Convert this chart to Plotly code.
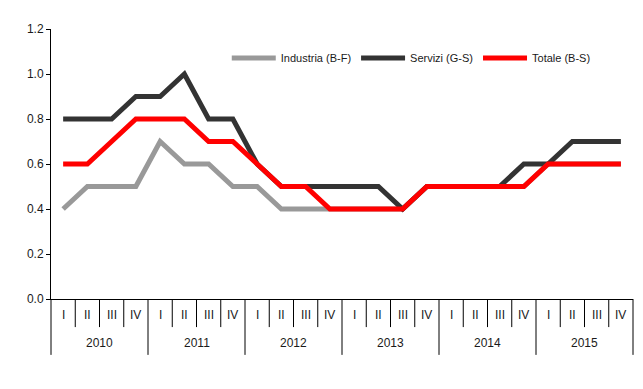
import plotly.graph_objects as go

years = ["2010", "2011", "2012", "2013", "2014", "2015"]
quarters = ["I", "II", "III", "IV"]

industria = [0.4, 0.5, 0.5, 0.5, 0.7, 0.6, 0.6, 0.5, 0.5, 0.4, 0.4, 0.4,
             0.4, 0.4, 0.4, 0.5, 0.5, 0.5, 0.5, 0.5, 0.6, 0.6, 0.6, 0.6]
servizi = [0.8, 0.8, 0.8, 0.9, 0.9, 1.0, 0.8, 0.8, 0.6, 0.5, 0.5, 0.5,
           0.5, 0.5, 0.4, 0.5, 0.5, 0.5, 0.5, 0.6, 0.6, 0.7, 0.7, 0.7]
totale = [0.6, 0.6, 0.7, 0.8, 0.8, 0.8, 0.7, 0.7, 0.6, 0.5, 0.5, 0.4,
          0.4, 0.4, 0.4, 0.5, 0.5, 0.5, 0.5, 0.5, 0.6, 0.6, 0.6, 0.6]

FONT = "Liberation Sans, Arial, sans-serif"
TXT = "#1a1a1a"
n = len(years) * len(quarters)
xs = list(range(n))

fig = go.Figure()
fig.add_trace(go.Scatter(x=xs, y=industria, mode="lines", name="Industria (B-F)",
                         line=dict(color="#999999", width=5)))
fig.add_trace(go.Scatter(x=xs, y=servizi, mode="lines", name="Servizi (G-S)",
                         line=dict(color="#333333", width=5)))
fig.add_trace(go.Scatter(x=xs, y=totale, mode="lines", name="Totale (B-S)",
                         line=dict(color="#FF0000", width=5)))

shapes = []
annotations = []
q_len = 0.104
y_len = 0.207
for k in range(n + 1):
    is_year = (k % 4 == 0)
    shapes.append(dict(type="line", xref="paper", yref="paper",
                       x0=k / n, x1=k / n, y0=0, y1=-(y_len if is_year else q_len),
                       line=dict(color="black", width=1)))
# right-hand border stroke seen in the reference image
shapes.append(dict(type="line", xref="paper", yref="paper",
                   x0=1.0125, x1=1.0125, y0=1.08, y1=-0.293,
                   line=dict(color="black", width=2)))
for i in range(n):
    annotations.append(dict(x=xs[i], y=-0.059, xref="x", yref="paper",
                            text=quarters[i % 4], showarrow=False,
                            font=dict(family=FONT, size=12, color=TXT),
                            yanchor="middle"))
for j, yr in enumerate(years):
    annotations.append(dict(x=xs[j * 4] + 1.5, y=-0.163, xref="x", yref="paper",
                            text=yr, showarrow=False,
                            font=dict(family=FONT, size=12, color=TXT),
                            yanchor="middle"))

fig.update_layout(
    width=635, height=381,
    margin=dict(l=43, r=10, t=21, b=90),
    paper_bgcolor="white", plot_bgcolor="white",
    font=dict(family=FONT, size=12, color=TXT),
    showlegend=True,
    legend=dict(orientation="h", x=0.302, y=0.893, xanchor="left", yanchor="middle",
                font=dict(family=FONT, size=11, color=TXT),
                bgcolor="rgba(0,0,0,0)", itemwidth=44, tracegroupgap=0),
    xaxis=dict(range=[-0.5, n - 0.5], showticklabels=False, ticks="",
               showgrid=False, zeroline=False, showline=True,
               linecolor="black", linewidth=1),
    yaxis=dict(range=[0, 1.2], dtick=0.2, tickformat=".1f", ticks="outside",
               ticklen=4, tickcolor="black", showgrid=False, zeroline=False,
               showline=True, linecolor="black", linewidth=1,
               tickfont=dict(family=FONT, size=12, color=TXT)),
    shapes=shapes, annotations=annotations,
)

fig.write_html("out.html")
